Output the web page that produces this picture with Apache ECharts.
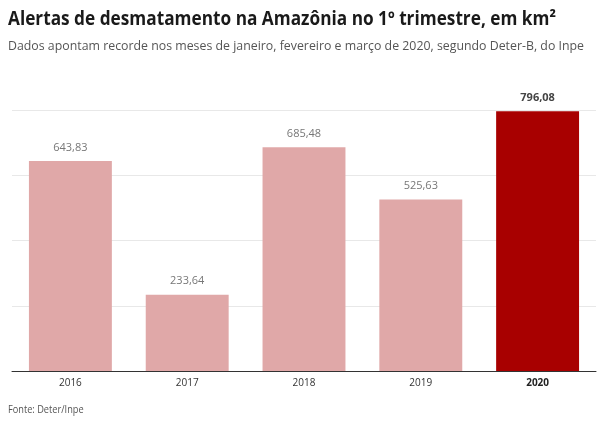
<!DOCTYPE html>
<html>
<head>
<meta charset="utf-8">
<script src="https://cdn.jsdelivr.net/npm/echarts@6/dist/echarts.min.js"></script>
<style>
  html, body { margin: 0; padding: 0; background: #fff; }
  #chart { width: 600px; height: 432px; }
</style>
</head>
<body>
<div id="chart"></div>
<script>
var years = ['2016', '2017', '2018', '2019', '2020'];
var alertas = [643.83, 233.64, 685.48, 525.63, 796.08];
var destaque = '2020';

var titulo = 'Alertas de desmatamento na Amazônia no 1º trimestre, em km²';
var subtitulo = 'Dados apontam recorde nos meses de janeiro, fevereiro e março de 2020, segundo Deter-B, do Inpe';
var fonte = 'Fonte: Deter/Inpe';

var chart = echarts.init(document.getElementById('chart'));

function fmt(v) {
  return v.toFixed(2).replace('.', ',');
}

// the original uses a condensed face, so squeeze Open Sans to the same width
var ctx = document.createElement('canvas').getContext('2d');
function squeeze(text, font, target) {
  ctx.font = font;
  var w = ctx.measureText(text).width;
  return Math.min(1, target / w);
}
var sxTitle = squeeze(titulo, 'bold 19px "Open Sans"', 548);
var sxSub = squeeze(subtitulo, '13px "Open Sans"', 576);

var barData = alertas.map(function (v, i) {
  var hot = years[i] === destaque;
  return {
    value: v,
    itemStyle: { color: hot ? '#a80000' : '#e0a8a8' },
    label: hot ? { color: '#444', fontWeight: 'bold' } : {}
  };
});

chart.setOption({
  animation: false,
  graphic: [{
    type: 'text', x: 8, y: 20, scaleX: sxTitle,
    style: { text: titulo, font: 'bold 19px "Open Sans"', fill: '#1a1a1a', verticalAlign: 'middle' }
  }, {
    type: 'text', x: 8, y: 46, scaleX: sxSub,
    style: { text: subtitulo, font: '13px "Open Sans"', fill: '#555', verticalAlign: 'middle' }
  }, {
    type: 'text', x: 8, y: 410, scaleX: 0.92,
    style: { text: fonte, font: '10px "Open Sans"', fill: '#555', verticalAlign: 'middle' }
  }],
  grid: { left: 12, right: 4, top: 110, bottom: 61 },
  xAxis: {
    type: 'category',
    data: years,
    axisLine: { lineStyle: { color: '#333', width: 1 } },
    axisTick: { show: false },
    axisLabel: {
      margin: 7,
      fontFamily: 'Open Sans', fontSize: 10, color: '#333',
      formatter: function (v) { return v === destaque ? '{b|' + v + '}' : v; },
      rich: { b: { fontFamily: 'Open Sans', fontSize: 10, fontWeight: 'bold', color: '#222' } }
    }
  },
  yAxis: {
    type: 'value',
    min: 0, max: 800, interval: 200,
    axisLabel: { show: false },
    axisLine: { show: false },
    axisTick: { show: false },
    splitLine: { lineStyle: { color: '#e8e8e8' } }
  },
  series: [{
    type: 'bar',
    data: barData,
    barWidth: '71%',
    label: {
      show: true, position: 'top', distance: 8,
      fontFamily: 'Open Sans', fontSize: 11, color: '#777',
      formatter: function (p) { return fmt(p.value); }
    }
  }]
});
</script>
</body>
</html>
